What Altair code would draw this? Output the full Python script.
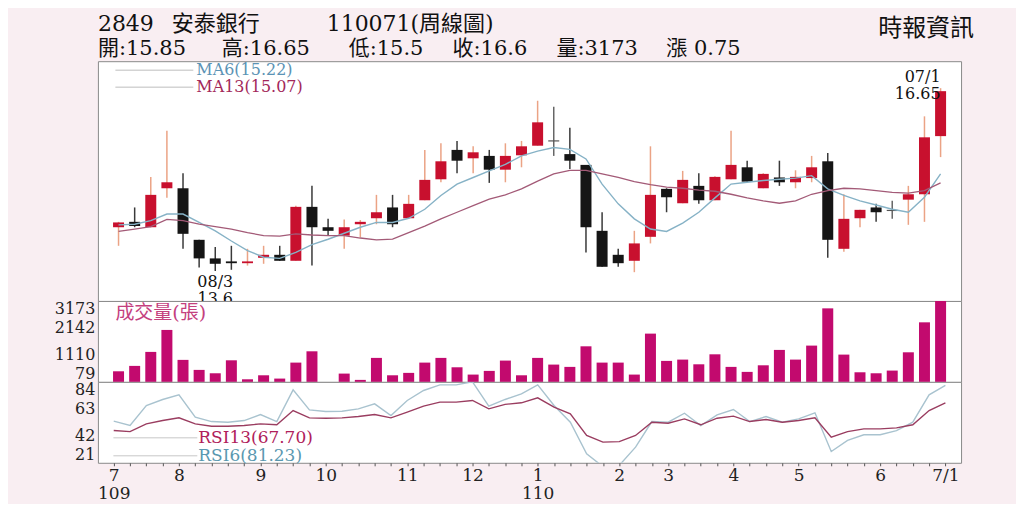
import json
import altair as alt
import pandas as pd

# ---------------- data ----------------
weeks = list(range(52))
opens = [14.33, 14.42, 14.33, 14.98, 14.98, 14.12, 13.81, 13.76, 13.73, 13.82, 13.87, 13.77, 14.67,
         14.33, 14.19, 14.38, 14.48, 14.66, 14.48, 14.78, 15.13, 15.62, 15.48, 15.52, 15.29, 15.53,
         15.69, 15.78, 15.55, 15.37, 14.27, 13.87, 13.77, 14.17, 14.97, 14.73, 15.02, 14.78, 15.13,
         15.33, 14.98, 15.16, 15.08, 15.15, 15.43, 13.97, 14.48, 14.66, 14.62, 14.79, 14.88, 15.85]
highs = [14.42, 14.66, 15.17, 15.94, 15.23, 14.12, 14.00, 14.02, 13.97, 14.02, 14.02, 14.69, 15.02,
         14.47, 14.46, 14.45, 14.87, 14.87, 14.87, 15.62, 15.73, 15.77, 15.68, 15.62, 15.73, 15.77,
         16.44, 16.34, 15.99, 15.37, 14.58, 13.97, 14.27, 15.68, 14.98, 15.27, 15.23, 15.18, 15.94,
         15.44, 15.23, 15.44, 15.28, 15.52, 15.57, 14.88, 14.62, 14.72, 14.77, 15.02, 16.18, 16.65]
lows = [14.02, 14.33, 14.33, 14.82, 13.97, 13.66, 13.60, 13.62, 13.69, 13.72, 13.77, 13.77, 13.69,
        14.19, 13.97, 14.16, 14.38, 14.33, 14.48, 14.78, 15.08, 15.23, 15.23, 15.07, 15.08, 15.33,
        15.69, 15.52, 15.30, 13.91, 13.67, 13.67, 13.58, 14.06, 14.58, 14.73, 14.72, 14.78, 15.13,
        15.09, 14.98, 15.02, 14.98, 15.08, 13.82, 13.92, 14.33, 14.42, 14.47, 14.37, 14.42, 15.50]
closes = [14.41, 14.35, 14.87, 15.08, 14.22, 13.81, 13.72, 13.73, 13.76, 13.87, 13.77, 14.67, 14.33,
          14.27, 14.33, 14.42, 14.58, 14.38, 14.72, 15.12, 15.43, 15.44, 15.58, 15.29, 15.52, 15.68,
          16.08, 15.76, 15.44, 14.33, 13.67, 13.73, 14.06, 14.87, 14.83, 15.12, 14.78, 15.17, 15.37,
          15.09, 15.22, 15.08, 15.17, 15.33, 14.12, 14.47, 14.62, 14.58, 14.60, 14.88, 15.83, 16.60]
volumes = [484, 690, 1225, 2065, 920, 537, 408, 904, 178, 331, 205, 816, 1248,
           70, 396, 155, 996, 331, 423, 816, 996, 637, 358, 499, 893, 331,
           996, 740, 652, 1439, 816, 816, 358, 1924, 881, 931, 751, 1133, 652,
           461, 713, 1301, 931, 1466, 2890, 1122, 446, 408, 511, 1210, 2356, 3173]
ma6 = [14.37, 14.38, 14.44, 14.55, 14.55, 14.41, 14.27, 14.10, 13.94, 13.83, 13.81, 13.91, 14.04,
       14.13, 14.23, 14.33, 14.41, 14.41, 14.48, 14.63, 14.86, 15.05, 15.16, 15.27, 15.38, 15.52,
       15.60, 15.66, 15.63, 15.47, 15.05, 14.72, 14.47, 14.30, 14.26, 14.40, 14.58, 14.82, 15.05,
       15.08, 15.11, 15.13, 15.15, 15.19, 14.97, 14.86, 14.77, 14.70, 14.63, 14.58, 14.83, 15.22]
ma13 = [14.26, 14.30, 14.34, 14.46, 14.44, 14.38, 14.34, 14.30, 14.24, 14.19, 14.18, 14.22, 14.20,
        14.19, 14.19, 14.15, 14.12, 14.13, 14.24, 14.35, 14.47, 14.58, 14.69, 14.80, 14.87, 14.97,
        15.10, 15.22, 15.28, 15.28, 15.22, 15.16, 15.09, 15.04, 15.00, 14.98, 14.95, 14.93, 14.88,
        14.82, 14.77, 14.73, 14.77, 14.88, 14.94, 14.98, 14.97, 14.94, 14.91, 14.90, 14.94, 15.07]
rsi6 = [53.4, 50.0, 65.6, 70.3, 73.9, 56.5, 53.1, 52.6, 53.9, 58.6, 53.1, 77.8, 62.2,
        60.9, 61.1, 63.0, 66.9, 57.8, 69.5, 77.3, 81.7, 81.7, 84.0, 65.1, 70.3, 74.7,
        81.7, 65.6, 52.6, 28.0, 18.0, 19.0, 33.2, 53.1, 52.6, 59.6, 50.0, 58.3, 62.5,
        53.1, 57.0, 52.6, 55.2, 59.9, 29.8, 38.4, 42.8, 42.8, 46.1, 52.6, 73.9, 81.23]
rsi13 = [46.1, 45.3, 51.3, 53.9, 56.0, 51.3, 49.5, 49.5, 50.0, 51.3, 50.6, 61.7, 56.0,
         55.7, 56.0, 57.0, 58.6, 56.0, 60.4, 65.1, 68.2, 68.2, 69.5, 63.0, 66.5, 67.7,
         71.6, 64.3, 59.1, 42.3, 37.1, 37.5, 42.3, 52.6, 51.8, 55.2, 50.6, 55.7, 57.3,
         53.1, 54.7, 52.6, 53.9, 56.0, 41.0, 45.3, 47.4, 47.4, 48.2, 50.6, 61.7, 67.70]

price_ticks = [13.1, 13.1 + 4 / 6, 13.1 + 8 / 6, 15.1, 15.1 + 4 / 6, 15.1 + 8 / 6, 17.1]
price_tick_labels = ["13.1", "13.8", "14.5", "15.1", "15.8", "16.4", "17.1"]
vol_ticks = [79, 79 + 3094 / 3, 79 + 2 * 3094 / 3, 3173]
vol_tick_labels = ["79", "1110", "2142", "3173"]
rsi_ticks = [21, 42, 63, 84]
month_pos = [0, 4, 9, 13, 18, 22, 26, 31, 34, 38, 42, 47, 51]
month_labels = ["7", "8", "9", "10", "11", "12", "1", "2", "3", "4", "5", "6", "7/1"]
year_labels = {0: "109", 26: "110"}

header1 = ["2849", "安泰銀行", "110071(周線圖)"]
header2 = ["開:15.85", "高:16.65", "低:15.5", "收:16.6", "量:3173", "漲 0.75"]
source_text = "時報資訊"
ma_legend = ["MA6(15.22)", "MA13(15.07)"]
rsi_legend = ["RSI13(67.70)", "RSI6(81.23)"]
vol_title = "成交量(張)"
last_note = "07/1\n16.65"
low_note = "08/3\n13.6"

# ---------------- styling / layout ----------------
FONT = "DejaVu Serif, Noto Sans CJK TC"
RED, BLACK, FLAT = "#c8102e", "#151515", "#555555"
W, H1, H2, H3 = 864, 240, 81, 81

df = pd.DataFrame(dict(i=weeks, open=opens, high=highs, low=lows, close=closes,
                       vol=volumes, ma6=ma6, ma13=ma13, rsi6=rsi6, rsi13=rsi13))


def kind(o, c):
    if c - o > 0.025:
        return "up"
    if o - c > 0.025:
        return "down"
    return "flat"


df["kind"] = [kind(o, c) for o, c in zip(opens, closes)]
df["body_color"] = df["kind"].map({"up": RED, "down": BLACK, "flat": FLAT})
df["wick_color"] = df["kind"].map({"up": "#eba385", "down": "#3a3a3a", "flat": "#666666"})

xs = alt.Scale(domain=[-0.97, 51.96], nice=False, zero=False)
x_none = alt.X("i:Q", scale=xs, axis=None)

price_expr = json.dumps(price_tick_labels) + "[round((datum.value-13.1)/(4/6))]"
vol_expr = json.dumps(vol_tick_labels) + "[round((datum.value-79)/(3094/3))]"
xlab = []
for w in weeks:
    if w in month_pos:
        m = month_labels[month_pos.index(w)]
        xlab.append([m, year_labels[w]] if w in year_labels else m)
    else:
        xlab.append("")
x_expr = json.dumps(xlab, ensure_ascii=False) + "[round(datum.value)]"

ax_common = dict(labelFont=FONT, labelFontSize=16, labelColor="#222", ticks=False,
                 labelPadding=3, domain=False, labelFlush=True, title=None)
price_axis = alt.Axis(values=price_ticks, labelExpr=price_expr, grid=True,
                      gridColor="#d9d9d9", gridWidth=1.5, **ax_common)
vol_axis = alt.Axis(values=vol_ticks, labelExpr=vol_expr, grid=False, **ax_common)
rsi_axis = alt.Axis(values=rsi_ticks, grid=False, **ax_common)

ys = alt.Scale(domain=[13.1, 17.1], nice=False, zero=False)


def yp(f):
    return alt.Y(f, scale=ys, axis=price_axis, title=None)


base = alt.Chart(df)
wicks = base.mark_rule(strokeWidth=1.5).encode(
    x=x_none, y=yp("low:Q"), y2="high:Q", color=alt.Color("wick_color:N", scale=None))
bodies = base.mark_bar(size=11).encode(
    x=x_none, y=yp("open:Q"), y2="close:Q", color=alt.Color("body_color:N", scale=None))
l_ma6 = base.mark_line(color="#86b2c6", strokeWidth=1.4).encode(x=x_none, y=yp("ma6:Q"))
l_ma13 = base.mark_line(color="#a35a77", strokeWidth=1.3).encode(x=x_none, y=yp("ma13:Q"))

one = pd.DataFrame({"k": [0]})
leg_rules = alt.layer(*[
    alt.Chart(one).mark_rule(color="#bdbdbd", strokeWidth=1).encode(
        x=alt.value(17.5), x2=alt.value(95.5), y=alt.value(yy)) for yy in (9, 26)])
leg_text = alt.layer(
    alt.Chart(one).mark_text(text=ma_legend[0], font=FONT, fontSize=16, color="#5b93b5",
                             align="left", baseline="middle").encode(x=alt.value(98.5), y=alt.value(9)),
    alt.Chart(one).mark_text(text=ma_legend[1], font=FONT, fontSize=16, color="#a3285a",
                             align="left", baseline="middle").encode(x=alt.value(98.5), y=alt.value(26)),
)

notes = pd.DataFrame({"i": [51, 6], "v": [highs[51], lows[6]], "t": [last_note, low_note]})
note_last = alt.Chart(notes.iloc[[0]]).mark_text(
    font=FONT, fontSize=16, lineBreak="\n", lineHeight=17, align="right", baseline="bottom",
    dy=-3, color="#111").encode(x=x_none, y=alt.Y("v:Q", scale=ys, axis=None), text="t:N")
note_low = alt.Chart(notes.iloc[[1]]).mark_text(
    font=FONT, fontSize=16, lineBreak="\n", lineHeight=17, align="center", baseline="top",
    dy=3, color="#111").encode(x=x_none, y=alt.Y("v:Q", scale=ys, axis=None), text="t:N")

# header (layout positions in pixels relative to the price panel)
h1_x = [0, 74, 229]
h2_x = [0, 124, 251, 355, 459, 569]
hdr = []
for t, px in zip(header1, h1_x):
    hdr.append(alt.Chart(one).mark_text(text=t, font=FONT, fontSize=22, color="#111",
                                        align="left", baseline="alphabetic")
               .encode(x=alt.value(px), y=alt.value(-30)))
for t, px in zip(header2, h2_x):
    hdr.append(alt.Chart(one).mark_text(text=t, font=FONT, fontSize=21, color="#111",
                                        align="left", baseline="alphabetic")
               .encode(x=alt.value(px), y=alt.value(-6)))
hdr.append(alt.Chart(one).mark_text(text=source_text, font=FONT, fontSize=24, color="#111",
                                    align="right", baseline="alphabetic")
           .encode(x=alt.value(877), y=alt.value(-25)))

price = alt.layer(wicks, bodies, l_ma6, l_ma13, leg_rules, leg_text, note_last, note_low,
                  *hdr).properties(width=W, height=H1)

# volume panel
vol_bars = base.mark_bar(size=11, color="#c20a6e", clip=True).encode(
    x=x_none,
    y=alt.Y("vol:Q", scale=alt.Scale(domain=[79, 3173], nice=False, zero=False), axis=vol_axis),
    y2=alt.datum(79))
vol_lab = alt.Chart(one).mark_text(text=vol_title, font=FONT, fontSize=19, color="#c4407e",
                                   align="left", baseline="alphabetic").encode(
    x=alt.value(17.5), y=alt.value(18))
vol = alt.layer(vol_bars, vol_lab).properties(width=W, height=H2)

# RSI panel
x_axis = alt.Axis(values=weeks, labelExpr=x_expr, labelFont=FONT, labelFontSize=17,
                  labelColor="#222", labelLineHeight=18, tickSize=3, tickColor="#555",
                  labelPadding=2, domain=False, grid=False, labelOverlap=False,
                  labelFlush=False, labelBound=False, title=None)
rs = alt.Scale(domain=[21, 84], nice=False, zero=False)
x_rsi = alt.X("i:Q", scale=xs, axis=x_axis)
r6 = base.mark_line(color="#a9c3cf", strokeWidth=1.4, clip=True).encode(
    x=x_rsi, y=alt.Y("rsi6:Q", scale=rs, axis=rsi_axis))
r13 = base.mark_line(color="#9a3d60", strokeWidth=1.4, clip=True).encode(
    x=x_rsi, y=alt.Y("rsi13:Q", scale=rs, axis=rsi_axis))
r_rules = alt.layer(*[
    alt.Chart(one).mark_rule(color="#c8c8c8", strokeWidth=1).encode(
        x=alt.value(15.5), x2=alt.value(99.5), y=alt.value(yy)) for yy in (56, 74)])
r_text = alt.layer(
    alt.Chart(one).mark_text(text=rsi_legend[0], font=FONT, fontSize=17, color="#b0205a",
                             align="left", baseline="middle").encode(x=alt.value(100.5), y=alt.value(56)),
    alt.Chart(one).mark_text(text=rsi_legend[1], font=FONT, fontSize=17, color="#5a98b0",
                             align="left", baseline="middle").encode(x=alt.value(100.5), y=alt.value(74)),
)
rsi = alt.layer(r_rules, r6, r13, r_text).properties(width=W, height=H3)

chart = alt.vconcat(price, vol, rsi, spacing=0, bounds="flush").properties(
    padding={"left": 45, "top": 4, "right": 41, "bottom": 1}
).configure(background="#f9eef2").configure_view(
    stroke="#8a8a8a", strokeWidth=1, fill="white")

chart.save("out.html", embed_options={"renderer": "svg", "actions": False})
